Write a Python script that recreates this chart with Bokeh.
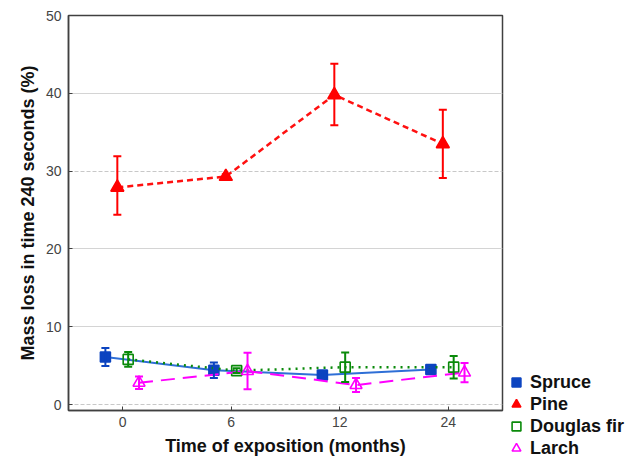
from bokeh.plotting import figure
from bokeh.models import (ColumnDataSource, Whisker, TeeHead, Range1d, FixedTicker,
                          Legend, LegendItem, Grid)
from bokeh.layouts import row, column
from bokeh.embed import file_html
from bokeh.resources import INLINE

# ---- data ----
months = ["0", "6", "12", "24"]

spruce = [6.1, 4.4, 3.8, 4.5]
spruce_err = [1.15, 1.0, 0.35, 0.3]

pine = [27.9, 29.3, 39.8, 33.5]
pine_low = [24.4, 29.0, 35.9, 29.1]
pine_high = [31.9, 29.6, 43.8, 37.9]

douglas = [5.8, 4.35, 4.8, 4.8]
douglas_err = [0.95, 0.3, 1.9, 1.45]

larch = [2.8, 4.3, 2.5, 4.1]
larch_err = [0.8, 2.35, 0.9, 1.25]

series_names = ["Spruce", "Pine", "Douglas fir", "Larch"]

# layout / style (not data)
offsets = {"Spruce": -0.16, "Pine": -0.05, "Douglas fir": 0.05, "Larch": 0.15}
FONT = "Liberation Sans"

p = figure(width=504, height=463, output_backend="svg", toolbar_location=None,
           x_range=Range1d(-0.5, 3.5), y_range=Range1d(-0.77, 50),
           min_border_left=68, min_border_right=2, min_border_top=15,
           min_border_bottom=53)

p.outline_line_color = "#404040"
p.outline_line_width = 1.5
p.background_fill_color = "white"
p.border_fill_color = "white"

# axes
p.xaxis.ticker = FixedTicker(ticks=list(range(len(months))))
p.xaxis.major_label_overrides = {i: m for i, m in enumerate(months)}
p.yaxis.ticker = FixedTicker(ticks=[0, 10, 20, 30, 40, 50])
for ax in (p.xaxis[0], p.yaxis[0]):
    ax.major_tick_in = 4
    ax.major_tick_out = 0
    ax.minor_tick_in = 0
    ax.minor_tick_out = 0
    ax.axis_line_color = "#404040"
    ax.axis_line_width = 1.5
    ax.major_tick_line_color = "#404040"
    ax.major_label_text_font = FONT
    ax.major_label_text_font_size = "14px"
    ax.major_label_text_color = "#444444"
    ax.axis_label_text_font = FONT
    ax.axis_label_text_font_size = "18px"
    ax.axis_label_text_font_style = "bold"
    ax.axis_label_text_color = "#111111"
p.xaxis.axis_label = "Time of exposition (months)"
p.yaxis.axis_label = "Mass loss in time 240 seconds (%)"
p.xaxis.major_label_standoff = 6
p.xaxis.axis_label_standoff = 6
p.yaxis.major_label_standoff = 7
p.yaxis.axis_label_standoff = 5

# grid: solid at 10,20,40 ; dashed at 0,30
p.xgrid.visible = False
p.ygrid.ticker = FixedTicker(ticks=[10, 20, 40])
p.ygrid.grid_line_color = "#d4d4d4"
p.ygrid.grid_line_width = 1
g2 = Grid(dimension=1, ticker=FixedTicker(ticks=[0, 30]),
          grid_line_color="#c8c8c8", grid_line_dash="4 2", grid_line_width=1)
p.add_layout(g2)

# legend-only panel on the right
lf = figure(width=136, height=463, output_backend="svg", toolbar_location=None,
            x_axis_location=None, y_axis_location=None,
            x_range=Range1d(-0.5, 3.5), y_range=Range1d(-0.77, 50),
            min_border=0)
lf.outline_line_color = None
lf.grid.visible = False
lf.background_fill_color = "white"
lf.border_fill_color = "white"

legend_renderers = []

def add_series(name, vals, low, high, line_color, marker_color, marker, fill,
               dash, lw, size):
    xs = [i + offsets[name] for i in range(len(vals))]
    src = ColumnDataSource(dict(x=xs, y=vals, lo=low, hi=high))
    p.line("x", "y", source=src, line_color=line_color, line_width=lw,
           line_dash=dash)
    w = Whisker(source=src, base="x", upper="hi", lower="lo", dimension="height",
                line_color=marker_color, line_width=2, level="glyph",
                upper_head=TeeHead(size=8, line_color=marker_color, line_width=2),
                lower_head=TeeHead(size=8, line_color=marker_color, line_width=2))
    p.add_layout(w)
    style = dict(marker=marker, size=size, line_color=marker_color, line_width=1.6,
                 fill_color=marker_color if fill else "white",
                 fill_alpha=1.0 if fill else 0.0)
    p.scatter("x", "y", source=src, **style)
    # same series, hidden, only to feed the legend panel's glyphs
    r = lf.scatter("x", "y", source=src, visible=False, **style)
    legend_renderers.append(r)

add_series("Spruce", spruce,
           [v - e for v, e in zip(spruce, spruce_err)],
           [v + e for v, e in zip(spruce, spruce_err)],
           "#2f6fd6", "#0c44c0", "square", True, "solid", 2, 10)
add_series("Pine", pine, pine_low, pine_high,
           "#ff1010", "#ff0000", "triangle", True, "6 4", 2.5, 13)
add_series("Douglas fir", douglas,
           [v - e for v, e in zip(douglas, douglas_err)],
           [v + e for v, e in zip(douglas, douglas_err)],
           "#0a8a0a", "#0a8a0a", "square", False, "2 5", 2.5, 10)
add_series("Larch", larch,
           [v - e for v, e in zip(larch, larch_err)],
           [v + e for v, e in zip(larch, larch_err)],
           "#ff00ff", "#ff00ff", "triangle", False, "14 8", 2, 12)

legend = Legend(items=[LegendItem(label=n, renderers=[r])
                       for n, r in zip(series_names, legend_renderers)],
                location=(1, 4), orientation="vertical",
                label_text_font=FONT, label_text_font_size="18px",
                label_text_font_style="bold", label_text_color="#111111",
                glyph_width=22, glyph_height=22, label_height=22,
                label_standoff=3, spacing=0, padding=0, margin=0,
                border_line_alpha=0, background_fill_alpha=0)
lf.add_layout(legend, "center")

layout = row(column(p), column(lf), spacing=0)
open("out.html", "w").write(file_html(layout, INLINE))
